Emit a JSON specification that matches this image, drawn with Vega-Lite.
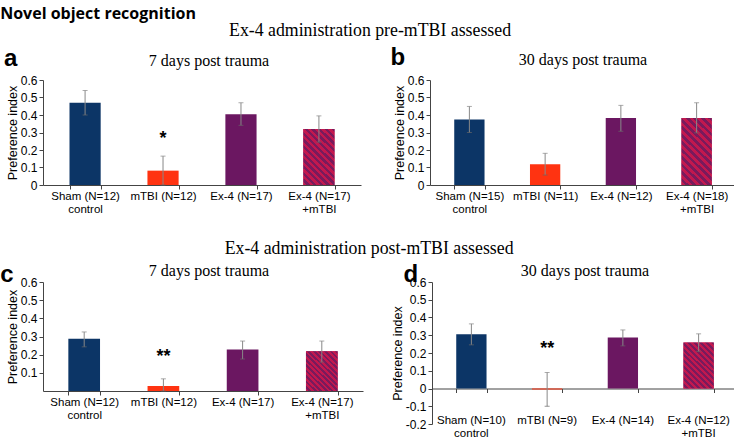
{
  "$schema": "https://vega.github.io/schema/vega-lite/v6.json",
  "padding": {"left": 0, "top": 6, "right": 0, "bottom": 0},
  "background": "white",
  "config": {
    "view": {"stroke": null},
    "axis": {"labelFont": "Liberation Sans", "labelColor": "#000", "titleFont": "Liberation Sans", "titleFontWeight": "normal", "titleColor": "#000", "domainColor": "#444", "tickColor": "#444", "grid": false, "labelOverlap": false},
    "axisY": {"labelFontSize": 12, "tickSize": 4, "titlePadding": 1, "titleFontSize": 12.5, "labelExpr": "'' + datum.value"},
    "title": {"font": "Liberation Serif", "fontWeight": "normal", "color": "#000"},
    "concat": {"spacing": 20}
  },
  "title": {"text": "Novel object recognition", "anchor": "start", "font": "Open Sans", "fontWeight": "bold", "fontSize": 16, "offset": 0},
  "datasets": {
    "bars": [
      {"panel": "a", "group": "Sham", "label": "Sham (N=12)|control", "mean": 0.47, "lo": 0.40, "hi": 0.54},
      {"panel": "a", "group": "mTBI", "label": "mTBI (N=12)", "mean": 0.082, "lo": 0.0, "hi": 0.165, "star": "*", "stary": 0.265},
      {"panel": "a", "group": "Ex-4", "label": "Ex-4 (N=17)", "mean": 0.404, "lo": 0.341, "hi": 0.47},
      {"panel": "a", "group": "Ex-4+mTBI", "label": "Ex-4 (N=17)|+mTBI", "mean": 0.32, "lo": 0.245, "hi": 0.395},
      {"panel": "b", "group": "Sham", "label": "Sham (N=15)|control", "mean": 0.374, "lo": 0.30, "hi": 0.449},
      {"panel": "b", "group": "mTBI", "label": "mTBI (N=11)", "mean": 0.119, "lo": 0.057, "hi": 0.181},
      {"panel": "b", "group": "Ex-4", "label": "Ex-4 (N=12)", "mean": 0.383, "lo": 0.307, "hi": 0.455},
      {"panel": "b", "group": "Ex-4+mTBI", "label": "Ex-4 (N=18)|+mTBI", "mean": 0.383, "lo": 0.298, "hi": 0.47},
      {"panel": "c", "group": "Sham", "label": "Sham (N=12)|control", "mean": 0.288, "lo": 0.243, "hi": 0.325},
      {"panel": "c", "group": "mTBI", "label": "mTBI (N=12)", "mean": 0.028, "lo": 0.0, "hi": 0.067, "star": "**", "stary": 0.185},
      {"panel": "c", "group": "Ex-4", "label": "Ex-4 (N=17)", "mean": 0.228, "lo": 0.176, "hi": 0.275},
      {"panel": "c", "group": "Ex-4+mTBI", "label": "Ex-4 (N=17)|+mTBI", "mean": 0.219, "lo": 0.159, "hi": 0.275},
      {"panel": "d", "group": "Sham", "label": "Sham (N=10)|control", "mean": 0.306, "lo": 0.246, "hi": 0.364},
      {"panel": "d", "group": "mTBI", "label": "mTBI (N=9)", "mean": -0.005, "lo": -0.10, "hi": 0.09, "star": "**", "stary": 0.22},
      {"panel": "d", "group": "Ex-4", "label": "Ex-4 (N=14)", "mean": 0.287, "lo": 0.24, "hi": 0.33},
      {"panel": "d", "group": "Ex-4+mTBI", "label": "Ex-4 (N=12)|+mTBI", "mean": 0.259, "lo": 0.209, "hi": 0.308}
    ]
  },
  "data": {"name": "bars"},
  "spacing": 25,
  "vconcat": [
    {
      "title": {"text": "Ex-4 administration pre-mTBI assessed", "fontSize": 17.8, "anchor": "middle", "offset": 6},
      "spacing": 29,
      "hconcat": [
        {
          "width": 318, "height": 105,
          "title": {"text": "7 days post trauma", "fontSize": 16, "offset": -22, "dx": 7},
          "transform": [{"filter": "datum.panel === 'a'"}],
          "encoding": {"x": {"field": "label", "type": "nominal", "sort": null, "scale": {"paddingInner": 0.6, "paddingOuter": 0.34}, "axis": {"title": null, "labelAngle": 0, "labelFontSize": 11.5, "labelLineHeight": 13, "labelExpr": "datum.value ? split(datum.value, '|') : ''", "tickBand": "extent", "tickSize": 4, "labelPadding": 1}}},
          "layer": [
            {"mark": {"type": "bar"}, "encoding": {"y": {"field": "mean", "type": "quantitative", "scale": {"domain": [0, 0.6]}, "axis": {"title": "Preference index", "values": [0, 0.1, 0.2, 0.3, 0.4, 0.5, 0.6], "tickCount": 20, "labelOverlap": false}}, "color": {"field": "group", "type": "nominal", "legend": null, "scale": {"domain": ["Sham", "mTBI", "Ex-4", "Ex-4+mTBI"], "range": ["#0c3566", "#ff3311", "#6b1761", "#c2184e"]}}}},
            {"transform": [{"filter": "datum.group === 'Ex-4+mTBI'"}], "mark": {"type": "bar", "fill": {"gradient": "linear", "x1": 0, "y1": 1, "x2": 0.653, "y2": -0.19, "stops": [{"offset":0,"color":"#c2184e"},{"offset":0.0385,"color":"#c2184e"},{"offset":0.0385,"color":"#7a1a5c"},{"offset":0.0769,"color":"#7a1a5c"},{"offset":0.0769,"color":"#c2184e"},{"offset":0.1154,"color":"#c2184e"},{"offset":0.1154,"color":"#7a1a5c"},{"offset":0.1538,"color":"#7a1a5c"},{"offset":0.1538,"color":"#c2184e"},{"offset":0.1923,"color":"#c2184e"},{"offset":0.1923,"color":"#7a1a5c"},{"offset":0.2308,"color":"#7a1a5c"},{"offset":0.2308,"color":"#c2184e"},{"offset":0.2692,"color":"#c2184e"},{"offset":0.2692,"color":"#7a1a5c"},{"offset":0.3077,"color":"#7a1a5c"},{"offset":0.3077,"color":"#c2184e"},{"offset":0.3462,"color":"#c2184e"},{"offset":0.3462,"color":"#7a1a5c"},{"offset":0.3846,"color":"#7a1a5c"},{"offset":0.3846,"color":"#c2184e"},{"offset":0.4231,"color":"#c2184e"},{"offset":0.4231,"color":"#7a1a5c"},{"offset":0.4615,"color":"#7a1a5c"},{"offset":0.4615,"color":"#c2184e"},{"offset":0.5,"color":"#c2184e"},{"offset":0.5,"color":"#7a1a5c"},{"offset":0.5385,"color":"#7a1a5c"},{"offset":0.5385,"color":"#c2184e"},{"offset":0.5769,"color":"#c2184e"},{"offset":0.5769,"color":"#7a1a5c"},{"offset":0.6154,"color":"#7a1a5c"},{"offset":0.6154,"color":"#c2184e"},{"offset":0.6538,"color":"#c2184e"},{"offset":0.6538,"color":"#7a1a5c"},{"offset":0.6923,"color":"#7a1a5c"},{"offset":0.6923,"color":"#c2184e"},{"offset":0.7308,"color":"#c2184e"},{"offset":0.7308,"color":"#7a1a5c"},{"offset":0.7692,"color":"#7a1a5c"},{"offset":0.7692,"color":"#c2184e"},{"offset":0.8077,"color":"#c2184e"},{"offset":0.8077,"color":"#7a1a5c"},{"offset":0.8462,"color":"#7a1a5c"},{"offset":0.8462,"color":"#c2184e"},{"offset":0.8846,"color":"#c2184e"},{"offset":0.8846,"color":"#7a1a5c"},{"offset":0.9231,"color":"#7a1a5c"},{"offset":0.9231,"color":"#c2184e"},{"offset":0.9615,"color":"#c2184e"},{"offset":0.9615,"color":"#7a1a5c"},{"offset":1,"color":"#7a1a5c"}]}}, "encoding": {"y": {"field": "mean", "type": "quantitative"}}},
            {"mark": {"type": "rule", "color": "#888"}, "encoding": {"y": {"field": "lo", "type": "quantitative"}, "y2": {"field": "hi"}}},
            {"mark": {"type": "tick", "color": "#888", "size": 5, "thickness": 1}, "encoding": {"y": {"field": "hi", "type": "quantitative"}}},
            {"mark": {"type": "tick", "color": "#666", "size": 5, "thickness": 1}, "encoding": {"y": {"field": "lo", "type": "quantitative"}}},
            {"transform": [{"filter": "datum.star"}], "mark": {"type": "text", "font": "Liberation Sans", "fontSize": 18, "fontWeight": "bold", "baseline": "middle"}, "encoding": {"y": {"field": "stary", "type": "quantitative"}, "text": {"field": "star"}}},
            {"transform": [{"filter": "datum.group === 'Sham'"}], "mark": {"type": "text", "text": "a", "font": "Liberation Sans", "fontSize": 24, "fontWeight": "bold", "align": "left", "baseline": "alphabetic", "dx": -81}, "encoding": {"y": {"datum": 0.68}}}
          ]
        },
        {
          "width": 306, "height": 105,
          "title": {"text": "30 days post trauma", "fontSize": 16, "offset": -22},
          "transform": [{"filter": "datum.panel === 'b'"}],
          "encoding": {"x": {"field": "label", "type": "nominal", "sort": null, "scale": {"paddingInner": 0.6, "paddingOuter": 0.32}, "axis": {"title": null, "labelAngle": 0, "labelFontSize": 11.5, "labelLineHeight": 13, "labelExpr": "datum.value ? split(datum.value, '|') : ''", "tickBand": "extent", "tickSize": 4, "labelPadding": 1}}},
          "layer": [
            {"mark": {"type": "bar"}, "encoding": {"y": {"field": "mean", "type": "quantitative", "scale": {"domain": [0, 0.6]}, "axis": {"title": "Preference index", "values": [0, 0.1, 0.2, 0.3, 0.4, 0.5, 0.6], "tickCount": 20, "labelOverlap": false}}, "color": {"field": "group", "type": "nominal", "legend": null, "scale": {"domain": ["Sham", "mTBI", "Ex-4", "Ex-4+mTBI"], "range": ["#0c3566", "#ff3311", "#6b1761", "#c2184e"]}}}},
            {"transform": [{"filter": "datum.group === 'Ex-4+mTBI'"}], "mark": {"type": "bar", "fill": {"gradient": "linear", "x1": 0, "y1": 1, "x2": 0.535, "y2": -0.206, "stops": [{"offset":0,"color":"#c2184e"},{"offset":0.0385,"color":"#c2184e"},{"offset":0.0385,"color":"#7a1a5c"},{"offset":0.0769,"color":"#7a1a5c"},{"offset":0.0769,"color":"#c2184e"},{"offset":0.1154,"color":"#c2184e"},{"offset":0.1154,"color":"#7a1a5c"},{"offset":0.1538,"color":"#7a1a5c"},{"offset":0.1538,"color":"#c2184e"},{"offset":0.1923,"color":"#c2184e"},{"offset":0.1923,"color":"#7a1a5c"},{"offset":0.2308,"color":"#7a1a5c"},{"offset":0.2308,"color":"#c2184e"},{"offset":0.2692,"color":"#c2184e"},{"offset":0.2692,"color":"#7a1a5c"},{"offset":0.3077,"color":"#7a1a5c"},{"offset":0.3077,"color":"#c2184e"},{"offset":0.3462,"color":"#c2184e"},{"offset":0.3462,"color":"#7a1a5c"},{"offset":0.3846,"color":"#7a1a5c"},{"offset":0.3846,"color":"#c2184e"},{"offset":0.4231,"color":"#c2184e"},{"offset":0.4231,"color":"#7a1a5c"},{"offset":0.4615,"color":"#7a1a5c"},{"offset":0.4615,"color":"#c2184e"},{"offset":0.5,"color":"#c2184e"},{"offset":0.5,"color":"#7a1a5c"},{"offset":0.5385,"color":"#7a1a5c"},{"offset":0.5385,"color":"#c2184e"},{"offset":0.5769,"color":"#c2184e"},{"offset":0.5769,"color":"#7a1a5c"},{"offset":0.6154,"color":"#7a1a5c"},{"offset":0.6154,"color":"#c2184e"},{"offset":0.6538,"color":"#c2184e"},{"offset":0.6538,"color":"#7a1a5c"},{"offset":0.6923,"color":"#7a1a5c"},{"offset":0.6923,"color":"#c2184e"},{"offset":0.7308,"color":"#c2184e"},{"offset":0.7308,"color":"#7a1a5c"},{"offset":0.7692,"color":"#7a1a5c"},{"offset":0.7692,"color":"#c2184e"},{"offset":0.8077,"color":"#c2184e"},{"offset":0.8077,"color":"#7a1a5c"},{"offset":0.8462,"color":"#7a1a5c"},{"offset":0.8462,"color":"#c2184e"},{"offset":0.8846,"color":"#c2184e"},{"offset":0.8846,"color":"#7a1a5c"},{"offset":0.9231,"color":"#7a1a5c"},{"offset":0.9231,"color":"#c2184e"},{"offset":0.9615,"color":"#c2184e"},{"offset":0.9615,"color":"#7a1a5c"},{"offset":1,"color":"#7a1a5c"}]}}, "encoding": {"y": {"field": "mean", "type": "quantitative"}}},
            {"mark": {"type": "rule", "color": "#888"}, "encoding": {"y": {"field": "lo", "type": "quantitative"}, "y2": {"field": "hi"}}},
            {"mark": {"type": "tick", "color": "#888", "size": 5, "thickness": 1}, "encoding": {"y": {"field": "hi", "type": "quantitative"}}},
            {"mark": {"type": "tick", "color": "#666", "size": 5, "thickness": 1}, "encoding": {"y": {"field": "lo", "type": "quantitative"}}},
            {"transform": [{"filter": "datum.group === 'Sham'"}], "mark": {"type": "text", "text": "b", "font": "Liberation Sans", "fontSize": 24, "fontWeight": "bold", "align": "left", "baseline": "alphabetic", "dx": -79}, "encoding": {"y": {"datum": 0.685}}}
          ]
        }
      ]
    },
    {
      "title": {"text": "Ex-4 administration post-mTBI assessed", "fontSize": 17.8, "anchor": "middle", "offset": 5},
      "spacing": 28,
      "hconcat": [
        {
          "width": 320, "height": 109,
          "title": {"text": "7 days post trauma", "fontSize": 16, "offset": -16, "dx": 6},
          "transform": [{"filter": "datum.panel === 'c'"}],
          "encoding": {"x": {"field": "label", "type": "nominal", "sort": null, "scale": {"paddingInner": 0.6, "paddingOuter": 0.32}, "axis": {"title": null, "labelAngle": 0, "labelFontSize": 11.5, "labelLineHeight": 13, "labelExpr": "datum.value ? split(datum.value, '|') : ''", "tickBand": "extent", "tickSize": 4, "labelPadding": 1}}},
          "layer": [
            {"mark": {"type": "bar"}, "encoding": {"y": {"field": "mean", "type": "quantitative", "scale": {"domain": [0, 0.6]}, "axis": {"title": "Preference index", "values": [0.1, 0.2, 0.3, 0.4, 0.5, 0.6], "tickCount": 20, "labelOverlap": false}}, "color": {"field": "group", "type": "nominal", "legend": null, "scale": {"domain": ["Sham", "mTBI", "Ex-4", "Ex-4+mTBI"], "range": ["#0c3566", "#ff3311", "#6b1761", "#c2184e"]}}}},
            {"transform": [{"filter": "datum.group === 'Ex-4+mTBI'"}], "mark": {"type": "bar", "fill": {"gradient": "linear", "x1": 0, "y1": 1, "x2": 0.862, "y2": -0.107, "stops": [{"offset":0,"color":"#c2184e"},{"offset":0.0385,"color":"#c2184e"},{"offset":0.0385,"color":"#7a1a5c"},{"offset":0.0769,"color":"#7a1a5c"},{"offset":0.0769,"color":"#c2184e"},{"offset":0.1154,"color":"#c2184e"},{"offset":0.1154,"color":"#7a1a5c"},{"offset":0.1538,"color":"#7a1a5c"},{"offset":0.1538,"color":"#c2184e"},{"offset":0.1923,"color":"#c2184e"},{"offset":0.1923,"color":"#7a1a5c"},{"offset":0.2308,"color":"#7a1a5c"},{"offset":0.2308,"color":"#c2184e"},{"offset":0.2692,"color":"#c2184e"},{"offset":0.2692,"color":"#7a1a5c"},{"offset":0.3077,"color":"#7a1a5c"},{"offset":0.3077,"color":"#c2184e"},{"offset":0.3462,"color":"#c2184e"},{"offset":0.3462,"color":"#7a1a5c"},{"offset":0.3846,"color":"#7a1a5c"},{"offset":0.3846,"color":"#c2184e"},{"offset":0.4231,"color":"#c2184e"},{"offset":0.4231,"color":"#7a1a5c"},{"offset":0.4615,"color":"#7a1a5c"},{"offset":0.4615,"color":"#c2184e"},{"offset":0.5,"color":"#c2184e"},{"offset":0.5,"color":"#7a1a5c"},{"offset":0.5385,"color":"#7a1a5c"},{"offset":0.5385,"color":"#c2184e"},{"offset":0.5769,"color":"#c2184e"},{"offset":0.5769,"color":"#7a1a5c"},{"offset":0.6154,"color":"#7a1a5c"},{"offset":0.6154,"color":"#c2184e"},{"offset":0.6538,"color":"#c2184e"},{"offset":0.6538,"color":"#7a1a5c"},{"offset":0.6923,"color":"#7a1a5c"},{"offset":0.6923,"color":"#c2184e"},{"offset":0.7308,"color":"#c2184e"},{"offset":0.7308,"color":"#7a1a5c"},{"offset":0.7692,"color":"#7a1a5c"},{"offset":0.7692,"color":"#c2184e"},{"offset":0.8077,"color":"#c2184e"},{"offset":0.8077,"color":"#7a1a5c"},{"offset":0.8462,"color":"#7a1a5c"},{"offset":0.8462,"color":"#c2184e"},{"offset":0.8846,"color":"#c2184e"},{"offset":0.8846,"color":"#7a1a5c"},{"offset":0.9231,"color":"#7a1a5c"},{"offset":0.9231,"color":"#c2184e"},{"offset":0.9615,"color":"#c2184e"},{"offset":0.9615,"color":"#7a1a5c"},{"offset":1,"color":"#7a1a5c"}]}}, "encoding": {"y": {"field": "mean", "type": "quantitative"}}},
            {"mark": {"type": "rule", "color": "#888"}, "encoding": {"y": {"field": "lo", "type": "quantitative"}, "y2": {"field": "hi"}}},
            {"mark": {"type": "tick", "color": "#888", "size": 5, "thickness": 1}, "encoding": {"y": {"field": "hi", "type": "quantitative"}}},
            {"mark": {"type": "tick", "color": "#666", "size": 5, "thickness": 1}, "encoding": {"y": {"field": "lo", "type": "quantitative"}}},
            {"transform": [{"filter": "datum.star"}], "mark": {"type": "text", "font": "Liberation Sans", "fontSize": 18, "fontWeight": "bold", "baseline": "middle"}, "encoding": {"y": {"field": "stary", "type": "quantitative"}, "text": {"field": "star"}}},
            {"transform": [{"filter": "datum.group === 'Sham'"}], "mark": {"type": "text", "text": "c", "font": "Liberation Sans", "fontSize": 24, "fontWeight": "bold", "align": "left", "baseline": "alphabetic", "dx": -84}, "encoding": {"y": {"datum": 0.6}}}
          ]
        },
        {
          "width": 306, "height": 142,
          "title": {"text": "30 days post trauma", "fontSize": 16, "offset": -16},
          "transform": [{"filter": "datum.panel === 'd'"}],
          "resolve": {"axis": {"x": "independent"}},
          "layer": [
            {"mark": {"type": "bar"}, "encoding": {"x": {"field": "label", "type": "nominal", "sort": null, "scale": {"paddingInner": 0.6, "paddingOuter": 0.32}, "axis": {"orient": "bottom", "title": null, "labelAngle": 0, "labelFontSize": 11.5, "labelLineHeight": 13, "labelExpr": "datum.value ? split(datum.value, '|') : ''", "domain": false, "ticks": false, "offset": -10, "labelPadding": 0}}, "y": {"field": "mean", "type": "quantitative", "scale": {"domain": [-0.2, 0.6]}, "axis": {"title": "Preference index", "values": [-0.2, -0.1, 0, 0.1, 0.2, 0.3, 0.4, 0.5, 0.6], "tickCount": 20, "labelOverlap": false}}, "color": {"field": "group", "type": "nominal", "legend": null, "scale": {"domain": ["Sham", "mTBI", "Ex-4", "Ex-4+mTBI"], "range": ["#0c3566", "#d01818", "#6b1761", "#c2184e"]}}}},
            {"transform": [{"filter": "datum.group === 'Ex-4+mTBI'"}], "mark": {"type": "bar", "fill": {"gradient": "linear", "x1": 0, "y1": 1, "x2": 0.756, "y2": -0.159, "stops": [{"offset":0,"color":"#c2184e"},{"offset":0.0385,"color":"#c2184e"},{"offset":0.0385,"color":"#7a1a5c"},{"offset":0.0769,"color":"#7a1a5c"},{"offset":0.0769,"color":"#c2184e"},{"offset":0.1154,"color":"#c2184e"},{"offset":0.1154,"color":"#7a1a5c"},{"offset":0.1538,"color":"#7a1a5c"},{"offset":0.1538,"color":"#c2184e"},{"offset":0.1923,"color":"#c2184e"},{"offset":0.1923,"color":"#7a1a5c"},{"offset":0.2308,"color":"#7a1a5c"},{"offset":0.2308,"color":"#c2184e"},{"offset":0.2692,"color":"#c2184e"},{"offset":0.2692,"color":"#7a1a5c"},{"offset":0.3077,"color":"#7a1a5c"},{"offset":0.3077,"color":"#c2184e"},{"offset":0.3462,"color":"#c2184e"},{"offset":0.3462,"color":"#7a1a5c"},{"offset":0.3846,"color":"#7a1a5c"},{"offset":0.3846,"color":"#c2184e"},{"offset":0.4231,"color":"#c2184e"},{"offset":0.4231,"color":"#7a1a5c"},{"offset":0.4615,"color":"#7a1a5c"},{"offset":0.4615,"color":"#c2184e"},{"offset":0.5,"color":"#c2184e"},{"offset":0.5,"color":"#7a1a5c"},{"offset":0.5385,"color":"#7a1a5c"},{"offset":0.5385,"color":"#c2184e"},{"offset":0.5769,"color":"#c2184e"},{"offset":0.5769,"color":"#7a1a5c"},{"offset":0.6154,"color":"#7a1a5c"},{"offset":0.6154,"color":"#c2184e"},{"offset":0.6538,"color":"#c2184e"},{"offset":0.6538,"color":"#7a1a5c"},{"offset":0.6923,"color":"#7a1a5c"},{"offset":0.6923,"color":"#c2184e"},{"offset":0.7308,"color":"#c2184e"},{"offset":0.7308,"color":"#7a1a5c"},{"offset":0.7692,"color":"#7a1a5c"},{"offset":0.7692,"color":"#c2184e"},{"offset":0.8077,"color":"#c2184e"},{"offset":0.8077,"color":"#7a1a5c"},{"offset":0.8462,"color":"#7a1a5c"},{"offset":0.8462,"color":"#c2184e"},{"offset":0.8846,"color":"#c2184e"},{"offset":0.8846,"color":"#7a1a5c"},{"offset":0.9231,"color":"#7a1a5c"},{"offset":0.9231,"color":"#c2184e"},{"offset":0.9615,"color":"#c2184e"},{"offset":0.9615,"color":"#7a1a5c"},{"offset":1,"color":"#7a1a5c"}]}}, "encoding": {"x": {"field": "label", "type": "nominal", "sort": null, "axis": null}, "y": {"field": "mean", "type": "quantitative"}}},
            {"mark": {"type": "rule", "color": "#888"}, "encoding": {"x": {"field": "label", "type": "nominal", "sort": null, "axis": {"orient": "bottom", "title": null, "labels": false, "domain": true, "ticks": true, "tickBand": "extent", "tickSize": 4, "offset": -35.5}}, "y": {"field": "lo", "type": "quantitative"}, "y2": {"field": "hi"}}},
            {"mark": {"type": "tick", "color": "#888", "size": 5, "thickness": 1}, "encoding": {"x": {"field": "label", "type": "nominal", "sort": null, "axis": null}, "y": {"field": "hi", "type": "quantitative"}}},
            {"mark": {"type": "tick", "color": "#666", "size": 5, "thickness": 1}, "encoding": {"x": {"field": "label", "type": "nominal", "sort": null, "axis": null}, "y": {"field": "lo", "type": "quantitative"}}},
            {"transform": [{"filter": "datum.star"}], "mark": {"type": "text", "font": "Liberation Sans", "fontSize": 18, "fontWeight": "bold", "baseline": "middle"}, "encoding": {"x": {"field": "label", "type": "nominal", "sort": null, "axis": null}, "y": {"field": "stary", "type": "quantitative"}, "text": {"field": "star"}}},
            {"transform": [{"filter": "datum.group === 'Sham'"}], "mark": {"type": "text", "text": "d", "font": "Liberation Sans", "fontSize": 24, "fontWeight": "bold", "align": "left", "baseline": "alphabetic", "dx": -68}, "encoding": {"x": {"field": "label", "type": "nominal", "sort": null, "axis": null}, "y": {"datum": 0.6}}}
          ]
        }
      ]
    }
  ]
}
